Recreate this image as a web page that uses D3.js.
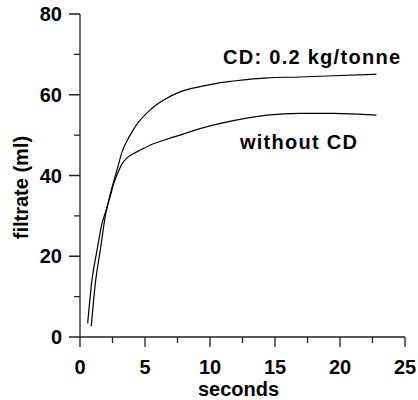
<!DOCTYPE html>
<html>
<head>
<meta charset="utf-8">
<script src="https://cdn.jsdelivr.net/npm/d3@7"></script>
<style>
  body { margin: 0; background: #fff; }
  text { font-family: "Liberation Sans", Arial, sans-serif; font-weight: bold; fill: #000; }
</style>
</head>
<body>
<svg id="chart" width="418" height="400"></svg>
<script>
// time (s) and filtrate (ml)
const cdTime = [0.87, 1.18, 1.56, 1.95, 2.3, 2.6, 2.9, 3.23, 3.6, 4.0, 4.5, 5.38, 6.5, 7.69, 9.23, 10.6, 11.8, 14.4, 16.9, 19.5, 22.8];
const cdValues = [2.7, 13.3, 21.5, 30, 35, 38.6, 42, 45.8, 48.5, 50.8, 53.2, 56.2, 58.8, 60.7, 62, 62.9, 63.4, 64.2, 64.4, 64.7, 65.1];
const noTime = [0.59, 0.92, 1.31, 1.69, 1.95, 2.3, 2.6, 2.9, 3.2, 3.6, 4.1, 4.64, 5.38, 6.5, 7.69, 9.23, 10.8, 12.6, 14.4, 16.9, 19.5, 22.8];
const noValues = [3.4, 14.1, 21.5, 28.1, 30.8, 34.6, 38.0, 40.6, 42.7, 44.3, 45.4, 46.3, 47.5, 48.8, 50, 51.6, 52.9, 54.1, 54.95, 55.4, 55.4, 54.95];
const xTicks = [0, 5, 10, 15, 20, 25];
const xMinor = [2.5, 7.5, 12.5, 17.5, 22.5];
const yTicks = [0, 20, 40, 60, 80];
const yMinor = [10, 30, 50, 70];
const seriesLabels = ["CD: 0.2 kg/tonne", "without CD"];

const margin = { top: 14, right: 13, bottom: 63, left: 80 };
const width = 418 - margin.left - margin.right;
const height = 400 - margin.top - margin.bottom;
const axisColor = '#222';

const svg = d3.select('#chart')
  .append('g')
  .attr('transform', 'translate(' + margin.left + ',' + margin.top + ')');

const x = d3.scaleLinear().domain([0, 25]).range([0, width]);
const y = d3.scaleLinear().domain([0, 80]).range([height, 0]);

// axis lines and tick marks as one path
const axisPath = d3.path();
axisPath.moveTo(-11, height);
axisPath.lineTo(x(25), height);
axisPath.moveTo(0, height);
axisPath.lineTo(0, y(80));
xTicks.forEach(d => { axisPath.moveTo(x(d), height); axisPath.lineTo(x(d), height + 10); });
xMinor.forEach(d => { axisPath.moveTo(x(d), height); axisPath.lineTo(x(d), height + 6); });
yTicks.forEach(d => { axisPath.moveTo(-11, y(d)); axisPath.lineTo(0, y(d)); });
yMinor.forEach(d => { axisPath.moveTo(-6, y(d)); axisPath.lineTo(0, y(d)); });

svg.append('path')
  .attr('d', axisPath.toString())
  .style('fill', 'none')
  .style('stroke', axisColor)
  .style('stroke-width', 1.3);

// tick labels
svg.selectAll('.xlabel')
  .data(xTicks)
  .enter()
  .append('text')
  .attr('x', d => x(d))
  .attr('y', height + 37)
  .attr('text-anchor', 'middle')
  .style('font-size', '20px')
  .text(d => d);
svg.selectAll('.ylabel')
  .data(yTicks)
  .enter()
  .append('text')
  .attr('x', -18)
  .attr('y', d => y(d) + 7)
  .attr('text-anchor', 'end')
  .style('font-size', '20px')
  .text(d => d);

// curves
const line = d3.line()
  .x(d => x(d[0]))
  .y(d => y(d[1]))
  .curve(d3.curveMonotoneX);

const cdData = d3.zip(cdTime, cdValues);
const noData = d3.zip(noTime, noValues);

[cdData, noData].forEach(data => {
  svg.append('path')
    .datum(data)
    .attr('d', line)
    .style('fill', 'none')
    .style('stroke', '#000')
    .style('stroke-width', 1.2);
});

// series labels
svg.append('text')
  .attr('x', x(11.0))
  .attr('y', y(62.9) - 19)
  .attr('textLength', 177)
  .style('font-size', '20px')
  .text(seriesLabels[0]);
svg.append('text')
  .attr('x', x(12.3))
  .attr('y', y(54.1) + 30)
  .attr('textLength', 117)
  .style('font-size', '20px')
  .text(seriesLabels[1]);

// axis titles
svg.append('text')
  .attr('x', width / 2 - 4)
  .attr('y', height + 59)
  .attr('text-anchor', 'middle')
  .style('font-size', '20px')
  .text('seconds');
svg.append('text')
  .attr('transform', 'translate(' + (-52) + ',' + (y(37)) + ') rotate(-90)')
  .attr('text-anchor', 'middle')
  .style('font-size', '20px')
  .text('filtrate (ml)');
</script>
</body>
</html>
